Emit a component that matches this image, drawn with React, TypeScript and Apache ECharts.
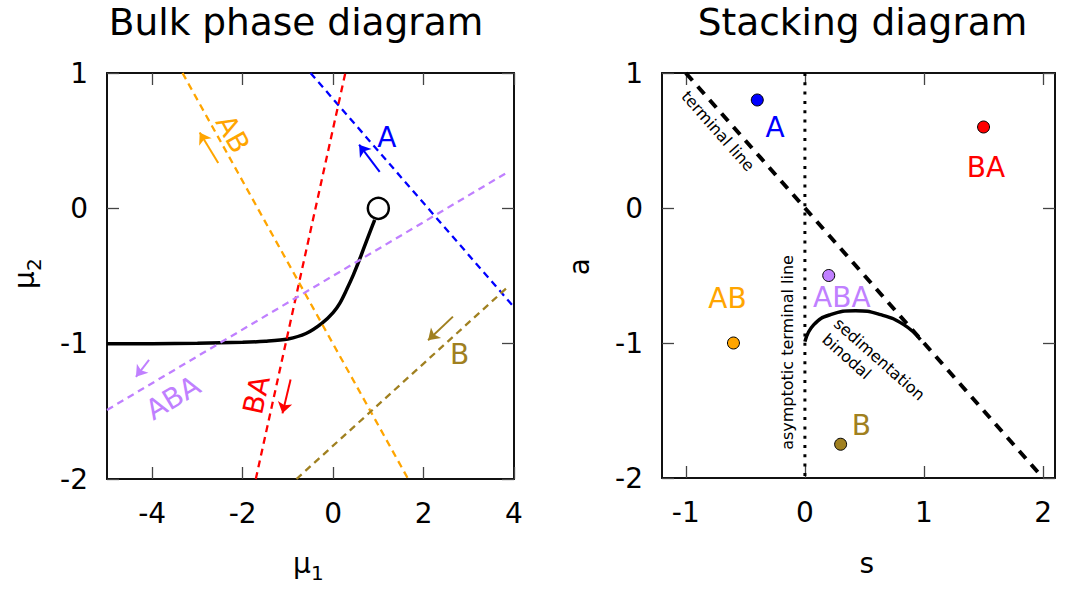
import React, { useEffect, useRef } from "react";
import * as echarts from "echarts";

const FONT = "DejaVu Sans";

// ---------- tick values ----------
const bulkXTicks = [-4, -2, 0, 2, 4];
const bulkYTicks = [-2, -1, 0, 1];
const stackXTicks = [-1, 0, 1, 2];
const stackYTicks = [-2, -1, 0, 1];

// ---------- bulk phase diagram ----------
const lineA = [[-0.5, 1], [4, -0.73]];
const lineBA = [[-1.71, -2], [0.27, 1]];
const lineAB = [[-3.33, 1], [1.66, -2]];
const lineABA = [[-5, -1.49], [3.85, 0.265]];
const lineB = [[-0.81, -2], [3.9, -0.57]];

const coexMu1 = [-5, -4, -3, -2, -1.5, -1.0, -0.6, -0.25, 0, 0.15, 0.3, 0.45, 0.6, 0.74, 0.85, 0.92];
const coexMu2 = [-1, -1, -0.997, -0.99, -0.982, -0.965, -0.925, -0.85, -0.77, -0.7, -0.6, -0.49, -0.365, -0.24, -0.145, -0.085];
const criticalPoint = [[1, 0]];

const arrowA = [[1.03, 0.27], [0.575, 0.47]];
const arrowAB = [[-2.54, 0.335], [-2.95, 0.56]];
const arrowBA = [[-0.94, -1.265], [-1.12, -1.515]];
const arrowABA = [[-4.07, -1.12], [-4.36, -1.245]];
const arrowB = [[2.65, -0.8], [2.1, -0.975]];

const bulkLabelNames = ["A", "AB", "BA", "ABA", "B"];
const bulkLabelX = [1.19, -2.22, -1.69, -3.54, 2.8];
const bulkLabelY = [0.52, 0.55, -1.38, -1.4, -1.08];

// ---------- stacking diagram ----------
const stackNames = ["A", "BA", "ABA", "AB", "B"];
const stackS = [-0.4, 1.5, 0.2, -0.6, 0.3];
const stackA = [0.8, 0.6, -0.5, -1, -1.75];
const stackLabelS = [-0.25, 1.52, 0.31, -0.65, 0.475];
const stackLabelA = [0.6, 0.3, -0.66, -0.67, -1.61];

const terminalLine = [[-1, 1], [2, -2]];
const asymptoticLine = [[0, 1], [0, -2]];
const sedS = [0, 0.075, 0.215, 0.425, 0.635, 0.83, 0.97];
const sedA = [-0.99, -0.864, -0.79, -0.761, -0.79, -0.864, -0.975];

const noteNames = ["terminal line", "asymptotic terminal line", "sedimentation", "binodal"];
const noteS = [-0.73, -0.15, 0.626, 0.35];
const noteA = [0.57, -1.07, -1.12, -1.1];

// ---------- styles ----------
const COLORS: Record<string, string> = {
  A: "#0000ff",
  BA: "#ff0000",
  AB: "#ffa500",
  ABA: "#c080ff",
  B: "#a08020",
};
const bulkLabelRotate: Record<string, number> = { A: 0, AB: -61, BA: 77.5, ABA: 31, B: 0 };
const noteRotate = [-48.6, 90, -41.5, -41.5];

function axisPair(gridIndex: number, min: number, max: number, ticks: number[], dim: "x" | "y") {
  const common = {
    gridIndex,
    type: "value",
    min,
    max,
    splitLine: { show: false },
    axisLine: { show: true, onZero: false, lineStyle: { color: "#111", width: 2 } },
    axisTick: {
      show: true,
      inside: true,
      length: 12,
      customValues: ticks,
      lineStyle: { color: "#444", width: 1.3 },
    },
  };
  const main = {
    ...common,
    position: dim === "x" ? "bottom" : "left",
    axisLabel: {
      show: true,
      customValues: ticks,
      color: "#000",
      fontSize: 28,
      fontFamily: FONT,
      margin: dim === "x" ? 20 : 19,
    },
  };
  const mirror = {
    ...common,
    position: dim === "x" ? "top" : "right",
    axisLabel: { show: false },
  };
  return [main, mirror];
}

function dashedLine(data: number[][], color: string, xi: number, dash: number[], width: number) {
  return {
    type: "line",
    xAxisIndex: xi,
    yAxisIndex: xi,
    data,
    symbol: "none",
    silent: true,
    lineStyle: { color, width, type: dash, opacity: 1 },
  };
}

function arrow(coords: number[][], color: string) {
  return {
    type: "lines",
    coordinateSystem: "cartesian2d",
    xAxisIndex: 0,
    yAxisIndex: 0,
    symbol: ["none", "arrow"],
    symbolSize: 11,
    silent: true,
    lineStyle: { color, width: 2, opacity: 1 },
    data: [{ coords }],
  };
}

export default function App() {
  const ref = useRef<HTMLDivElement>(null);
  useEffect(() => {
    document.body.style.margin = "0";
    const chart = echarts.init(ref.current!, null, { renderer: "svg" });

    const [bx0, bx1] = axisPair(0, -5, 4, bulkXTicks, "x");
    const [by0, by1] = axisPair(0, -2, 1, bulkYTicks, "y");
    const [sx0, sx1] = axisPair(1, -1.2, 2.1, stackXTicks, "x");
    const [sy0, sy1] = axisPair(1, -2, 1, stackYTicks, "y");

    const series: any[] = [];
    const labelBase = {
      show: true,
      position: "inside",
      formatter: "{b}",
      fontFamily: FONT,
      opacity: 1,
      textBorderWidth: 0,
    };
    const hiddenItem = { color: "rgba(0,0,0,0)", opacity: 1 };

    // bulk: coexistence curve
    series.push({
      type: "line",
      xAxisIndex: 0,
      yAxisIndex: 0,
      data: coexMu1.map((x, i) => [x, coexMu2[i]]),
      symbol: "none",
      smooth: 0.3,
      silent: true,
      lineStyle: { color: "#000", width: 3.5, opacity: 1 },
    });
    const bulkDash = [7, 5];
    series.push(dashedLine(lineA, COLORS.A, 0, bulkDash, 2.3));
    series.push(dashedLine(lineBA, COLORS.BA, 0, bulkDash, 2.3));
    series.push(dashedLine(lineAB, COLORS.AB, 0, bulkDash, 2.3));
    series.push(dashedLine(lineABA, COLORS.ABA, 0, bulkDash, 2.3));
    series.push(dashedLine(lineB, COLORS.B, 0, bulkDash, 2.3));
    series.push({
      type: "scatter",
      xAxisIndex: 0,
      yAxisIndex: 0,
      data: criticalPoint,
      symbol: "circle",
      symbolSize: 21,
      silent: true,
      itemStyle: { color: "#fff", borderColor: "#000", borderWidth: 2.5, opacity: 1 },
      z: 5,
    });
    series.push(arrow(arrowA, COLORS.A));
    series.push(arrow(arrowAB, COLORS.AB));
    series.push(arrow(arrowBA, COLORS.BA));
    series.push(arrow(arrowABA, COLORS.ABA));
    series.push(arrow(arrowB, COLORS.B));
    series.push({
      type: "scatter",
      xAxisIndex: 0,
      yAxisIndex: 0,
      symbolSize: 1,
      silent: true,
      itemStyle: hiddenItem,
      data: bulkLabelNames.map((n, i) => ({
        name: n,
        value: [bulkLabelX[i], bulkLabelY[i]],
        label: { color: COLORS[n], rotate: bulkLabelRotate[n] },
      })),
      label: { ...labelBase, fontSize: 28 },
      z: 6,
    });

    // stacking diagram
    series.push(dashedLine(terminalLine, "#000", 2, [10, 8], 4));
    series.push(dashedLine(asymptoticLine, "#000", 2, [3, 6.3], 3));
    series.push({
      type: "line",
      xAxisIndex: 2,
      yAxisIndex: 2,
      data: sedS.map((s, i) => [s, sedA[i]]),
      symbol: "none",
      smooth: 0.5,
      silent: true,
      lineStyle: { color: "#000", width: 3.5, opacity: 1 },
    });
    series.push({
      type: "scatter",
      xAxisIndex: 2,
      yAxisIndex: 2,
      symbolSize: 12,
      silent: true,
      data: stackNames.map((n, i) => ({
        name: n,
        value: [stackS[i], stackA[i]],
        itemStyle: { color: COLORS[n], borderColor: "#000", borderWidth: 1, opacity: 1 },
      })),
      z: 5,
    });
    series.push({
      type: "scatter",
      xAxisIndex: 2,
      yAxisIndex: 2,
      symbolSize: 1,
      silent: true,
      itemStyle: hiddenItem,
      data: stackNames.map((n, i) => ({
        name: n,
        value: [stackLabelS[i], stackLabelA[i]],
        label: { color: COLORS[n] },
      })),
      label: { ...labelBase, fontSize: 28 },
      z: 6,
    });
    series.push({
      type: "scatter",
      xAxisIndex: 2,
      yAxisIndex: 2,
      symbolSize: 1,
      silent: true,
      itemStyle: hiddenItem,
      data: noteNames.map((n, i) => ({
        name: n,
        value: [noteS[i], noteA[i]],
        label: { rotate: noteRotate[i] },
      })),
      label: { ...labelBase, fontSize: 16, color: "#000" },
      z: 6,
    });

    const txt = (text: string, x: number, y: number, size: number, align = "center") => ({
      type: "text",
      x,
      y,
      style: {
        text,
        fontSize: size,
        fontFamily: FONT,
        fill: "#000",
        textAlign: align,
        textVerticalAlign: "middle",
      },
    });

    const option: any = {
      animation: false,
      backgroundColor: "#fff",
      grid: [
        { left: 107, top: 73, width: 407, height: 406, outerBoundsMode: "none" },
        { left: 662, top: 73, width: 393, height: 405, outerBoundsMode: "none" },
      ],
      xAxis: [bx0, bx1, sx0, sx1],
      yAxis: [by0, by1, sy0, sy1],
      series,
      graphic: [
        txt("Bulk phase diagram", 296, 22, 37.5),
        txt("Stacking diagram", 862.5, 22, 37.5),
        {
          type: "group",
          x: 293,
          y: 573,
          children: [txt("μ", 0, -9.7, 28, "left"), txt("1", 18, 0.1, 20, "left")],
        },
        {
          type: "group",
          x: 34,
          y: 289,
          rotation: Math.PI / 2,
          children: [txt("μ", 0, -9.7, 28, "left"), txt("2", 18, 0.1, 20, "left")],
        },
        txt("s", 866.7, 563.3, 28),
        {
          type: "group",
          x: 589.3,
          y: 266.7,
          rotation: Math.PI / 2,
          children: [txt("a", 0, -9.7, 28)],
        },
      ],
    };
    chart.setOption(option);
    return () => chart.dispose();
  }, []);
  return (
    <div
      ref={ref}
      style={{ position: "fixed", left: 0, top: 0, width: 1067, height: 590, background: "#fff" }}
    />
  );
}
